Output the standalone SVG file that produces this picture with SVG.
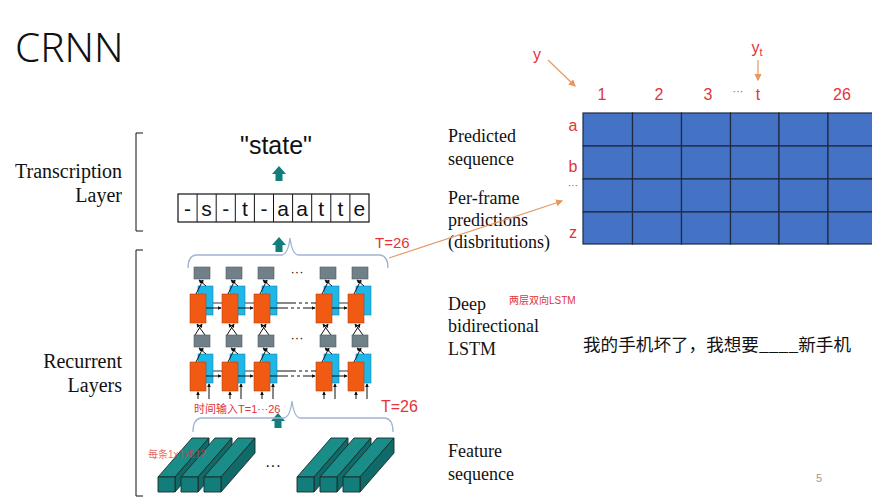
<svg xmlns="http://www.w3.org/2000/svg" width="872" height="500" viewBox="0 0 872 500">
<style>
.serif{font-family:"Liberation Serif","Times New Roman",serif;fill:#111;font-size:18px}
.big{font-size:20px}
.sans{font-family:"Liberation Sans",Arial,sans-serif}
.red{fill:#e2343a;font-family:"Liberation Sans",Arial,"Noto Sans CJK SC",sans-serif}
.gray{fill:#6f8088;stroke:#4d5a60;stroke-width:0.6}
.blue{fill:#1fb6e8;stroke:#1487b0;stroke-width:0.6}
.orange{fill:#f05a12;stroke:#b8420c;stroke-width:0.6}
.ln{stroke:#111;stroke-width:1;fill:none}
.brace{stroke:#9fb4d2;stroke-width:1.3;fill:none}
.teal{fill:#127d7a}
.grid rect{fill:#4472c4;stroke:#1e2a44;stroke-width:1.2}
.orng{stroke:#e59a62;stroke-width:1.2;fill:none}
</style>
<defs>
<marker id="ah" viewBox="0 0 6 6" refX="5" refY="3" markerWidth="4" markerHeight="4" orient="auto"><path d="M0,0 L6,3 L0,6 Z" fill="#111"/></marker>
<marker id="oh" viewBox="0 0 6 6" refX="5" refY="3" markerWidth="6" markerHeight="6" orient="auto"><path d="M0,0 L6,3 L0,6 Z" fill="#e59a62"/></marker>
<g id="cell">
<rect class="gray" x="4" y="-27" width="16" height="12"/>
<rect class="blue" x="8" y="-8" width="15" height="29"/>
<rect class="orange" x="0" y="0" width="16" height="29"/>
<line class="ln" x1="6" y1="0" x2="13" y2="-14" marker-end="url(#ah)"/>
<line class="ln" x1="16" y1="-8" x2="9" y2="-14" marker-end="url(#ah)"/>
</g>
<g id="inTop">
<line class="ln" x1="5" y1="41" x2="12" y2="30" marker-end="url(#ah)"/>
<line class="ln" x1="15" y1="41" x2="7" y2="30" marker-end="url(#ah)"/>
</g>
<g id="inBot">
<line class="ln" x1="8" y1="37" x2="8" y2="30" marker-end="url(#ah)"/>
<line class="ln" x1="19" y1="37" x2="19" y2="22" marker-end="url(#ah)"/>
</g>
<g id="hz">
<line class="ln" x1="16" y1="14" x2="31" y2="14" marker-end="url(#ah)"/>
<line x1="23" y1="9" x2="32" y2="9" stroke="#555" stroke-width="1.2"/>
</g>
<g id="bar" stroke="#1b2b2b" stroke-width="0.9" stroke-linejoin="round">
<path d="M0,0 L34,-39 L51,-39 L17,0 Z" fill="#1a8d89"/>
<path d="M17,0 L51,-39 L51,-24 L17,15 Z" fill="#0f6a68"/>
<rect x="0" y="0" width="17" height="15" fill="#127d7a"/>
</g>
<path id="tarrow" d="M0,-8 L7,0 L3.5,0 L3.5,7 L-3.5,7 L-3.5,0 L-7,0 Z"/>
</defs>

<text x="15" y="62" font-family="'Noto Sans','Liberation Sans',sans-serif" font-weight="300" font-size="40.5" fill="#111">CRNN</text>

<g id="brackets" class="ln" stroke-width="1.5">
<path d="M143,133 L136,133 L136,231 L143,231"/>
<path d="M143,250 L136,250 L136,496 L143,496"/>
</g>

<g id="layer-labels" class="serif big" text-anchor="end">
<text x="122" y="178">Transcription</text>
<text x="122" y="202">Layer</text>
<text x="122" y="368">Recurrent</text>
<text x="122" y="392">Layers</text>
</g>

<g id="output">
<text x="276" y="154" class="sans" font-size="25" fill="#111" text-anchor="middle">"state"</text>
</g>

<g id="sequence" class="sans" font-size="21" fill="#111" text-anchor="middle">
<rect x="178" y="194" width="191" height="28" fill="#fff" stroke="#111" stroke-width="1.2"/>
<g class="ln" stroke-width="1.2">
<line x1="197.1" y1="194" x2="197.1" y2="222"/><line x1="216.2" y1="194" x2="216.2" y2="222"/>
<line x1="235.3" y1="194" x2="235.3" y2="222"/><line x1="254.4" y1="194" x2="254.4" y2="222"/>
<line x1="273.5" y1="194" x2="273.5" y2="222"/><line x1="292.6" y1="194" x2="292.6" y2="222"/>
<line x1="311.7" y1="194" x2="311.7" y2="222"/><line x1="330.8" y1="194" x2="330.8" y2="222"/>
<line x1="349.9" y1="194" x2="349.9" y2="222"/>
</g>
<text x="187.5" y="216">-</text><text x="206.6" y="216">s</text><text x="225.7" y="216">-</text>
<text x="244.8" y="216">t</text><text x="263.9" y="216">-</text><text x="283" y="216">a</text>
<text x="302.1" y="216">a</text><text x="321.2" y="216">t</text><text x="340.3" y="216">t</text>
<text x="359.4" y="216">e</text>
</g>

<g id="teal-arrows" class="teal">
<use href="#tarrow" x="279" y="174"/>
<use href="#tarrow" x="279" y="245"/>
<use href="#tarrow" x="278" y="421"/>
</g>

<g id="braces">
<path class="brace" d="M188,268 Q188,256 196,255 L282,255 Q288,254 290,238 Q292,254 298,255 L380,255 Q388,256 388,268"/>
<path class="brace" d="M193,432 Q193,419 201,418 L284,418 Q290,417 292,401 Q294,417 300,418 L385,418 Q393,419 393,432"/>
</g>

<g id="lstm">
<use href="#cell" x="190" y="294"/><use href="#cell" x="222" y="294"/><use href="#cell" x="254" y="294"/>
<use href="#cell" x="316" y="294"/><use href="#cell" x="348" y="294"/>
<use href="#inTop" x="190" y="294"/><use href="#inTop" x="222" y="294"/><use href="#inTop" x="254" y="294"/>
<use href="#inTop" x="316" y="294"/><use href="#inTop" x="348" y="294"/>
<use href="#cell" x="190" y="362"/><use href="#cell" x="222" y="362"/><use href="#cell" x="254" y="362"/>
<use href="#cell" x="316" y="362"/><use href="#cell" x="348" y="362"/>
<use href="#inBot" x="190" y="362"/><use href="#inBot" x="222" y="362"/><use href="#inBot" x="254" y="362"/>
<use href="#inBot" x="316" y="362"/><use href="#inBot" x="348" y="362"/>
<use href="#hz" x="190" y="294"/><use href="#hz" x="222" y="294"/><use href="#hz" x="316" y="294"/>
<use href="#hz" x="190" y="362"/><use href="#hz" x="222" y="362"/><use href="#hz" x="316" y="362"/>
<g class="ln" stroke-width="1.2">
<path d="M270,308 L288,308 M291,308 L294,308 M297,308 L300,308 M303,308 L315,308" marker-end="url(#ah)"/>
<path d="M277,303 L296,303 M299,303 L302,303 M305,303 L308,303 M311,303 L316,303"/>
<path d="M270,376 L288,376 M291,376 L294,376 M297,376 L300,376 M303,376 L315,376" marker-end="url(#ah)"/>
<path d="M277,371 L296,371 M299,371 L302,371 M305,371 L308,371 M311,371 L316,371"/>
</g>
<text x="297" y="276" class="sans" font-size="13" fill="#111" text-anchor="middle">···</text>
<text x="297" y="342" class="sans" font-size="13" fill="#111" text-anchor="middle">···</text>
</g>

<g id="features">
<use href="#bar" x="158" y="477"/><use href="#bar" x="181" y="477"/><use href="#bar" x="204" y="477"/>
<use href="#bar" x="297" y="477"/><use href="#bar" x="320" y="477"/><use href="#bar" x="343" y="477"/>
<text x="273" y="471" class="sans" font-size="16" fill="#111" text-anchor="middle">···</text>
</g>

<text x="148" y="458" class="red" font-size="10" fill-opacity="0.75">每条1x1x512</text>

<g id="red-labels">
<text x="375" y="248" class="red" font-size="15">T=26</text>
<text x="381" y="412" class="red" font-size="16">T=26</text>
<text x="194" y="413" class="red" font-size="11">时间输入T=1···26</text>
<text x="509" y="304" class="red" font-size="10">两层双向LSTM</text>
</g>

<g id="right-labels" class="serif">
<text x="448" y="142">Predicted</text>
<text x="448" y="165">sequence</text>
<text x="448" y="204">Per-frame</text>
<text x="448" y="226">predictions</text>
<text x="448" y="248">(disbritutions)</text>
<text x="448" y="310">Deep</text>
<text x="448" y="332">bidirectional</text>
<text x="448" y="355">LSTM</text>
<text x="448" y="457">Feature</text>
<text x="448" y="480">sequence</text>
</g>

<text x="583" y="351" font-family="'Noto Sans CJK SC',sans-serif" font-size="17.6" fill="#111">我的手机坏了，我想要____新手机</text>

<g id="matrix" class="grid">
<rect x="583" y="113" width="49.5" height="33"/><rect x="632.5" y="113" width="49" height="33"/><rect x="681.5" y="113" width="49" height="33"/><rect x="730.5" y="113" width="48.5" height="33"/><rect x="779" y="113" width="49" height="33"/><rect x="828" y="113" width="50" height="33"/>
<rect x="583" y="146" width="49.5" height="33"/><rect x="632.5" y="146" width="49" height="33"/><rect x="681.5" y="146" width="49" height="33"/><rect x="730.5" y="146" width="48.5" height="33"/><rect x="779" y="146" width="49" height="33"/><rect x="828" y="146" width="50" height="33"/>
<rect x="583" y="179" width="49.5" height="33"/><rect x="632.5" y="179" width="49" height="33"/><rect x="681.5" y="179" width="49" height="33"/><rect x="730.5" y="179" width="48.5" height="33"/><rect x="779" y="179" width="49" height="33"/><rect x="828" y="179" width="50" height="33"/>
<rect x="583" y="212" width="49.5" height="32"/><rect x="632.5" y="212" width="49" height="32"/><rect x="681.5" y="212" width="49" height="32"/><rect x="730.5" y="212" width="48.5" height="32"/><rect x="779" y="212" width="49" height="32"/><rect x="828" y="212" width="50" height="32"/>
</g>

<g id="matrix-labels" class="red" font-size="16" text-anchor="middle">
<text x="602" y="100">1</text><text x="659" y="100">2</text><text x="708" y="100">3</text>
<text x="738" y="95" font-size="11">···</text><text x="758" y="100">t</text><text x="842" y="100">26</text>
<text x="573" y="131">a</text><text x="573" y="172">b</text>
<text x="573" y="189" font-size="10">···</text><text x="573" y="238">z</text>
<text x="537" y="60">y</text>
<text x="757" y="53">y<tspan font-size="11" dy="3">t</tspan></text>
</g>

<g id="connectors">
<line class="orng" x1="548" y1="60" x2="575" y2="86" marker-end="url(#oh)"/>
<line class="orng" x1="758" y1="60" x2="758" y2="80" marker-end="url(#oh)"/>
<line class="orng" x1="389" y1="258" x2="562" y2="201" marker-end="url(#oh)"/>
</g>

<text x="819" y="482" class="sans" font-size="11" fill="#999" text-anchor="middle">5</text>
</svg>
